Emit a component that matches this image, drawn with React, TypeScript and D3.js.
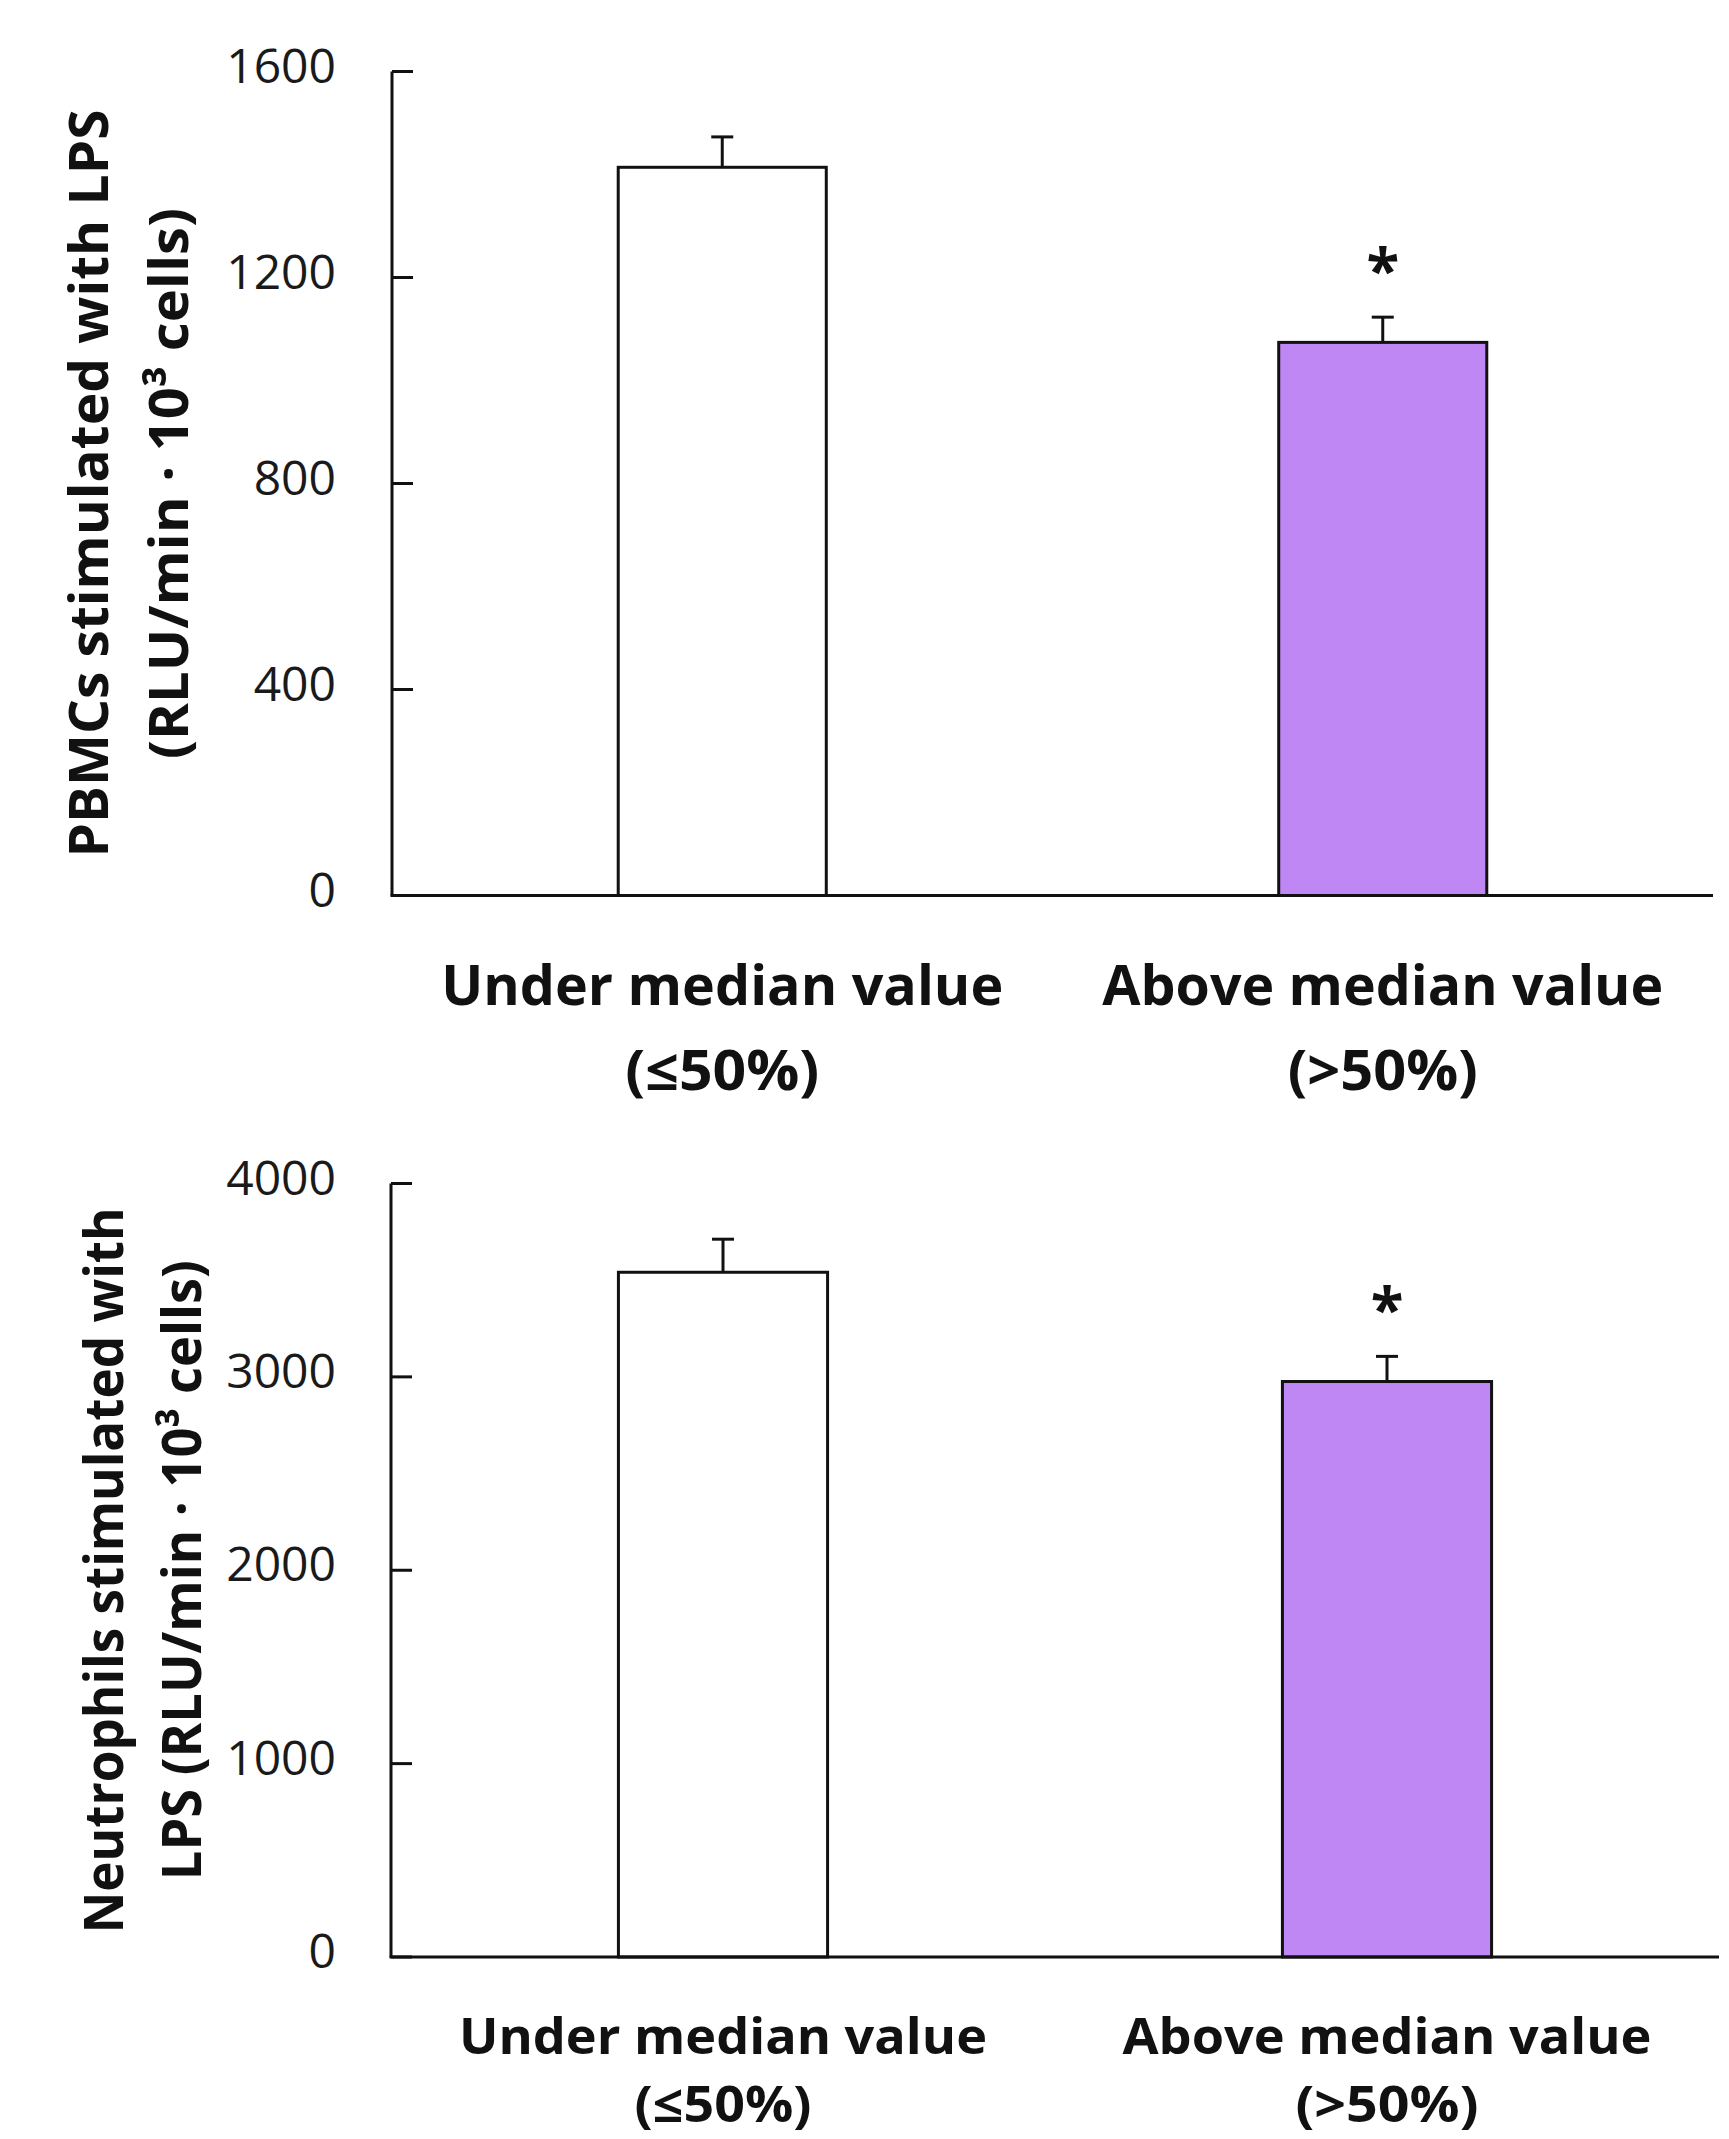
import React from 'react';
import * as d3 from 'd3';

// ---------- data ----------
const categories = ['Under median value', 'Above median value'];
const categoryNotes = ['(≤50%)', '(>50%)'];
const barColors = ['#ffffff', '#be87f4'];
const significance = ['', '*'];

const pbmcMeans = [1414, 1074];
const pbmcErrors = [59, 49];
const pbmcTicks = [0, 400, 800, 1200, 1600];
const pbmcTitle = ['PBMCs stimulated with LPS', '(RLU/min · 10³ cells)'];

const neutMeans = [3541, 2976];
const neutErrors = [171, 130];
const neutTicks = [0, 1000, 2000, 3000, 4000];
const neutTitle = ['Neutrophils stimulated with', 'LPS (RLU/min · 10³ cells)'];

// ---------- layout ----------
type Layout = {
  x0: number; x1: number; yTop: number; yBase: number;
  titleX: number[]; titleLen: number[];
  labelY: number[]; labelSize: number; labelLen1: number[]; labelLen2: number[];
};

const topLayout: Layout = {
  x0: 392, x1: 1713, yTop: 71.5, yBase: 895.5,
  titleX: [108, 188], titleLen: [748, 551],
  labelY: [1005, 1090], labelSize: 55, labelLen1: [562, 561], labelLen2: [194, 190],
};
const bottomLayout: Layout = {
  x0: 391, x1: 1719, yTop: 1183.5, yBase: 1957,
  titleX: [123, 201], titleLen: [726, 620],
  labelY: [2054, 2122], labelSize: 50, labelLen1: [528, 529], labelLen2: [177, 183],
};

const FONT = '"Open Sans", "DejaVu Sans", sans-serif';
const INK = '#111';

function Panel({ means, errors, ticks, title, L }: {
  means: number[]; errors: number[]; ticks: number[]; title: string[]; L: Layout;
}) {
  const y = d3.scaleLinear().domain([0, d3.max(ticks) as number]).range([L.yBase, L.yTop]);
  const x = d3.scaleBand<string>().domain(categories).range([L.x0, L.x1])
    .paddingInner(0.685).paddingOuter(0.3425);
  const bw = x.bandwidth();
  const midY = (L.yBase + L.yTop) / 2;
  return (
    <g>
      {/* y axis */}
      <line x1={L.x0} x2={L.x0} y1={y(ticks[ticks.length - 1])} y2={L.yBase} stroke={INK} strokeWidth={3} />
      {ticks.map((t) => (
        <g key={t}>
          <line x1={L.x0} x2={L.x0 + 21} y1={y(t)} y2={y(t)} stroke={INK} strokeWidth={3} />
          <text x={336} y={y(t) + 11} textAnchor="end" fontFamily={FONT} fontSize={48} fill="#1a1a1a">{t}</text>
        </g>
      ))}
      {/* bars */}
      {categories.map((c, i) => {
        const bx = x(c) as number;
        const cx = bx + bw / 2;
        const top = y(means[i]);
        const eTop = y(means[i] + errors[i]);
        return (
          <g key={c}>
            <rect x={bx} y={top} width={bw} height={L.yBase - top} fill={barColors[i]} stroke={INK} strokeWidth={3} />
            <line x1={cx} x2={cx} y1={top} y2={eTop} stroke={INK} strokeWidth={3} />
            <line x1={cx - 11} x2={cx + 11} y1={eTop} y2={eTop} stroke={INK} strokeWidth={3} />
            {significance[i] && (
              <text x={cx} y={eTop - 58 + 33} textAnchor="middle" fontFamily={FONT} fontWeight="bold" fontSize={60} fill={INK}>{significance[i]}</text>
            )}
            <text x={cx} y={L.labelY[0]} textAnchor="middle" fontFamily={FONT} fontWeight="bold" fontSize={L.labelSize}
              textLength={L.labelLen1[i]} lengthAdjust="spacingAndGlyphs" fill={INK}>{c}</text>
            <text x={cx} y={L.labelY[1]} textAnchor="middle" fontFamily={FONT} fontWeight="bold" fontSize={L.labelSize}
              textLength={L.labelLen2[i]} lengthAdjust="spacingAndGlyphs" fill={INK}>{categoryNotes[i]}</text>
          </g>
        );
      })}
      {/* x axis */}
      <line x1={L.x0 - 1.5} x2={L.x1} y1={L.yBase} y2={L.yBase} stroke={INK} strokeWidth={3} />
      {/* y title */}
      {title.map((t, k) => (
        <text key={k} transform={`translate(${L.titleX[k]},${midY}) rotate(-90)`} textAnchor="middle"
          fontFamily={FONT} fontWeight="bold" fontSize={54} textLength={L.titleLen[k]} lengthAdjust="spacingAndGlyphs" fill={INK}>{t}</text>
      ))}
    </g>
  );
}

export default function App() {
  return (
    <svg width={1729} height={2139} viewBox="0 0 1729 2139"
      style={{ position: 'absolute', left: 0, top: 0, background: '#fff', display: 'block' }}>
      <rect x={0} y={0} width={1729} height={2139} fill="#fff" />
      <Panel means={pbmcMeans} errors={pbmcErrors} ticks={pbmcTicks} title={pbmcTitle} L={topLayout} />
      <Panel means={neutMeans} errors={neutErrors} ticks={neutTicks} title={neutTitle} L={bottomLayout} />
    </svg>
  );
}
